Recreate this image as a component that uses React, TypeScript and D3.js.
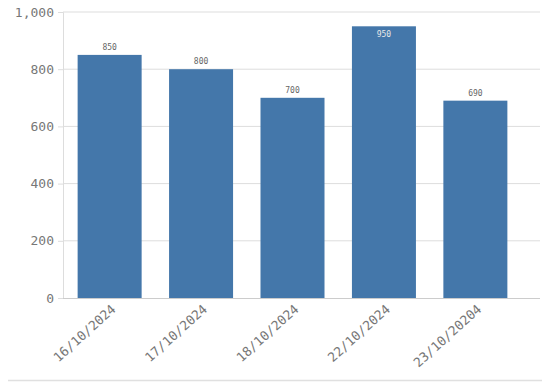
import React, { useEffect, useRef } from 'react';
import * as d3 from 'd3';

const dates = ['16/10/2024', '17/10/2024', '18/10/2024', '22/10/2024', '23/10/20204'];
const values = [850, 800, 700, 950, 690];
const yTicks = [0, 200, 400, 600, 800, 1000];

const App = () => {
  const svgRef = useRef<SVGSVGElement>(null);

  useEffect(() => {
    const svg = d3.select(svgRef.current);
    svg.selectAll('*').remove();

    const font = '"DejaVu Sans Mono", monospace';
    const left = 63;
    const right = 540;
    const top = 12;
    const bottom = 298;

    const x = d3.scaleBand<string>()
      .domain(dates)
      .range([left, 522])
      .paddingInner(0.3)
      .paddingOuter(0.16);

    const y = d3.scaleLinear().domain([0, 1000]).range([bottom, top]);

    // gridlines
    svg.append('g')
      .selectAll('line')
      .data(yTicks.slice(1))
      .join('line')
      .attr('x1', left)
      .attr('x2', right)
      .attr('y1', d => y(d))
      .attr('y2', d => y(d))
      .attr('stroke', '#ddd');

    // y axis
    const yAxis = svg.append('g')
      .attr('transform', `translate(${left},0)`)
      .call(d3.axisLeft(y).tickValues(yTicks).tickSize(5).tickPadding(4).tickFormat(d3.format(',')));
    yAxis.select('.domain').attr('stroke', '#ddd');
    yAxis.selectAll('.tick line').attr('stroke', '#ddd');
    yAxis.selectAll('text')
      .attr('font-family', font)
      .attr('font-size', 13)
      .attr('fill', '#777');

    // bars
    svg.append('g')
      .selectAll('rect')
      .data(values)
      .join('rect')
      .attr('x', (d, i) => x(dates[i])!)
      .attr('y', d => y(d))
      .attr('width', x.bandwidth())
      .attr('height', d => bottom - y(d))
      .attr('fill', '#4477aa');

    // value labels
    svg.append('g')
      .selectAll('text')
      .data(values)
      .join('text')
      .attr('x', (d, i) => x(dates[i])! + x.bandwidth() / 2)
      .attr('y', d => (d > 900 ? y(d) + 11 : y(d) - 5))
      .attr('text-anchor', 'middle')
      .attr('font-family', font)
      .attr('font-size', 8)
      .attr('fill', d => (d > 900 ? '#e8e8e8' : '#666'))
      .text(d => d);

    // x axis
    svg.append('line')
      .attr('x1', left)
      .attr('x2', right)
      .attr('y1', bottom + 0.5)
      .attr('y2', bottom + 0.5)
      .attr('stroke', '#ccc');

    svg.append('g')
      .selectAll('text')
      .data(dates)
      .join('text')
      .attr('transform', d => `translate(${x(d)! + x.bandwidth() / 2 + 4},${bottom + 9}) rotate(-42)`)
      .attr('text-anchor', 'end')
      .attr('dy', '0.35em')
      .attr('font-family', font)
      .attr('font-size', 13)
      .attr('fill', '#777')
      .text(d => d);

    // bottom border
    svg.append('line')
      .attr('x1', 8)
      .attr('x2', 546)
      .attr('y1', 380.5)
      .attr('y2', 380.5)
      .attr('stroke', '#e0e0e0')
      .attr('stroke-width', 1.5);
  }, []);

  return <svg ref={svgRef} width={550} height={390} style={{ display: 'block', margin: '-8px 0 0 -8px' }} />;
};

export default App;
